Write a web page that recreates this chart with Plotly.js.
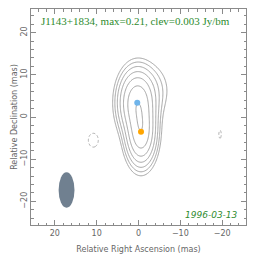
<!DOCTYPE html>
<html>
<head>
<meta charset="utf-8">
<script src="https://cdn.plot.ly/plotly-3.0.1.min.js"></script>
<style>html,body{margin:0;padding:0;background:#fff;}#plot{width:264px;height:262px;}</style>
</head>
<body>
<div id="plot"></div>
<script>
// ---- data ----
const sourceName = "J1143+1834";
const maxFlux = 0.21;
const clev = 0.003;
const obsDate = "1996-03-13";
const nLevels = 7;                     // clev * 2^k, k = 0..6
// model components (mas, Jy)
const compX = [0.3, -0.6];
const compY = [3.4, -3.5];
const compFlux = [0.162, 0.162];
const compColor = ["#6fb4ea", "#ffa500"];
const convFwhmX = [4.9, 4.0];
const convFwhmY = [8.7, 8.7];
// faint diffuse emission (upper right bulge)
const diffX = [-3.0];
const diffY = [6.5];
const diffFlux = [0.008];
const diffFwhmX = [6.0];
const diffFwhmY = [8.0];
// small negative features
const negX = [10.8, -19.5];
const negY = [-5.5, -4.1];
const negFlux = [-0.0045, -0.0033];
const negFwhmX = [3.1, 1.6];
const negFwhmY = [4.3, 5.1];
// restoring beam
const beamX = [17.2];
const beamY = [-17.3];
const beamMinor = [3.8];
const beamMajor = [8.4];
const tickVals = [-20, -10, 0, 10, 20];
const tickText = ["\u221220", "\u221210", "0", "10", "20"];

// ---- image grid ----
const gx = [], gy = [];
for (let i = 0; i <= 256; i++) { gx.push(-25.6 + i * 0.2); gy.push(-25.6 + i * 0.2); }
const k = 4 * Math.LN2;
function gauss(x, y, x0, y0, f, wx, wy) {
  const dx = (x - x0) / wx, dy = (y - y0) / wy;
  return f * Math.exp(-k * (dx * dx + dy * dy));
}
const zPos = [], zNeg = [];
for (let j = 0; j < gy.length; j++) {
  const rp = [], rn = [];
  for (let i = 0; i < gx.length; i++) {
    let v = 0;
    for (let c = 0; c < compX.length; c++) v += gauss(gx[i], gy[j], compX[c], compY[c], compFlux[c], convFwhmX[c], convFwhmY[c]);
    for (let c = 0; c < diffX.length; c++) v += gauss(gx[i], gy[j], diffX[c], diffY[c], diffFlux[c], diffFwhmX[c], diffFwhmY[c]);
    let n = 0;
    for (let c = 0; c < negX.length; c++) n += gauss(gx[i], gy[j], negX[c], negY[c], negFlux[c], negFwhmX[c], negFwhmY[c]);
    rp.push(v > 1e-9 ? Math.log2(v / clev) : -30);
    rn.push(n);
  }
  zPos.push(rp); zNeg.push(rn);
}

const traces = [
  { type: "contour", x: gx, y: gy, z: zPos, showscale: false, hoverinfo: "skip",
    contours: { coloring: "none", start: 0, end: nLevels - 1, size: 1 },
    line: { color: "#a3a3a3", width: 1, smoothing: 1 } },
  { type: "contour", x: gx, y: gy, z: zNeg, showscale: false, hoverinfo: "skip",
    contours: { coloring: "none", start: -clev, end: -clev, size: 1 },
    line: { color: "#b0b0b0", width: 1, dash: "3px,2px" } },
  { type: "scatter", mode: "markers", x: compX, y: compY, hoverinfo: "skip",
    marker: { color: compColor, size: 6 } }
];

const shapes = beamX.map((bx, i) => ({
  type: "circle", xref: "x", yref: "y",
  x0: bx - beamMinor[i] / 2, x1: bx + beamMinor[i] / 2,
  y0: beamY[i] - beamMajor[i] / 2, y1: beamY[i] + beamMajor[i] / 2,
  fillcolor: "#708090", line: { width: 0 }
}));

const axisCommon = {
  showgrid: false, zeroline: false, showline: true, linecolor: "#8a8a8a", linewidth: 1,
  mirror: "ticks", ticks: "inside", ticklen: 5, tickcolor: "#8a8a8a", tickwidth: 1,
  tickvals: tickVals, ticktext: tickText,
  tickfont: { family: "DejaVu Sans, sans-serif", size: 8, color: "#666" },
  minor: { dtick: 2, ticks: "inside", ticklen: 2.5, tickcolor: "#8a8a8a", showgrid: false }
};

const layout = {
  width: 264, height: 262,
  margin: { l: 31, r: 18, t: 9, b: 37 },
  paper_bgcolor: "#fff", plot_bgcolor: "#fff",
  showlegend: false,
  xaxis: Object.assign({}, axisCommon, {
    range: [25.7, -25.7],
    title: { text: "Relative Right Ascension (mas)", standoff: 9,
      font: { family: "DejaVu Sans, sans-serif", size: 8, color: "#666" } }
  }),
  yaxis: Object.assign({}, axisCommon, {
    range: [-25.6, 25.6], tickangle: -90,
    title: { text: "Relative Declination (mas)", standoff: 0,
      font: { family: "DejaVu Sans, sans-serif", size: 8, color: "#666" } }
  }),
  shapes: shapes,
  annotations: [
    { xref: "paper", yref: "paper", x: 0.037, y: 0.946, xanchor: "left", yanchor: "middle",
      showarrow: false, text: sourceName + ", max=" + maxFlux + ", clev=" + clev + " Jy/bm",
      font: { family: "Liberation Serif, serif", size: 11, color: "#2e8b2e" } },
    { xref: "paper", yref: "paper", x: 0.97, y: 0.046, xanchor: "right", yanchor: "middle",
      showarrow: false, text: "<i>" + obsDate + "</i>",
      font: { family: "DejaVu Sans, sans-serif", size: 9, color: "#2e8b2e" } }
  ]
};

Plotly.newPlot("plot", traces, layout, { displayModeBar: false, staticPlot: true });
</script>
</body>
</html>
